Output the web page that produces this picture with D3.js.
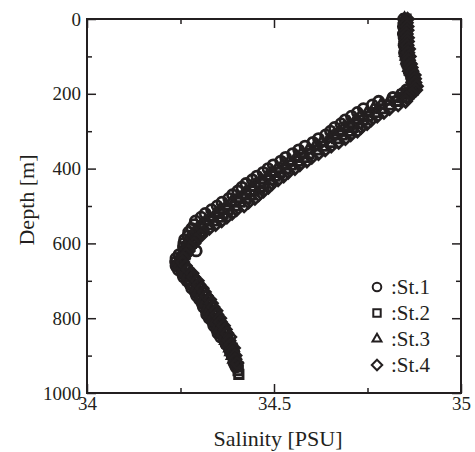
<!DOCTYPE html>
<html>
<head>
<meta charset="utf-8">
<script src="https://cdn.jsdelivr.net/npm/d3@7"></script>
<style>
  html, body { margin: 0; padding: 0; background: #fff; }
  svg { display: block; }
  text { font-family: "Times New Roman", "Liberation Serif", Tinos, Times, serif; fill: #231f20; }
</style>
</head>
<body>
<svg id="chart" width="475" height="452"></svg>
<script>
// depth levels [m]
const DEPTH = [0,10,20,30,40,50,60,70,80,90,100,110,120,130,140,150,160,170,180,190,
  200,210,220,230,240,250,260,270,280,290,300,310,320,330,340,350,360,370,380,390,
  400,410,420,430,440,450,460,470,480,490,500,510,520,530,540,550,560,570,580,590,
  600,610,620,630,640,650,660,670,680,690,700,710,720,730,740,750,760,770,780,790,
  800,810,820,830,840,850,860,870,880,890,900,910,920,930,940,950];

// salinity [PSU] per station, read from the profile
const SAL_ST1 = [34.847,34.849,34.846,34.849,34.846,34.848,34.850,34.848,34.852,34.849,
  34.852,34.855,34.855,34.860,34.861,34.866,34.869,34.869,34.873,34.854,
  34.843,34.818,34.780,34.763,34.739,34.723,34.707,34.690,34.679,34.662,
  34.651,34.638,34.619,34.604,34.583,34.566,34.550,34.531,34.518,34.498,
  34.484,34.471,34.454,34.442,34.425,34.414,34.403,34.389,34.379,34.361,
  34.348,34.333,34.316,34.305,34.290,34.287,34.280,34.272,34.270,34.261,
  34.259,34.258,34.292,34.246,34.238,34.237,34.238,34.244,34.255,34.258,
  34.267,34.276,34.280,34.289,34.293,34.301,34.308,34.311,34.319,34.320,
  34.327,34.336,34.339,34.347,34.350,34.357,34.369,34.372,34.380,34.383,
  34.388,34.393,34.393,34.398];

const SAL_ST2 = [34.853,34.851,34.852,34.855,34.852,34.854,34.852,34.854,34.856,34.855,
  34.858,34.857,34.861,34.866,34.867,34.872,34.871,34.875,34.877,34.872,
  34.861,34.843,34.828,34.811,34.787,34.771,34.751,34.738,34.725,34.710,
  34.699,34.682,34.667,34.652,34.631,34.614,34.594,34.579,34.564,34.546,
  34.532,34.515,34.502,34.490,34.473,34.462,34.447,34.437,34.425,34.409,
  34.396,34.377,34.364,34.353,34.338,34.326,34.310,34.301,34.293,34.283,
  34.279,34.270,34.265,34.262,34.254,34.251,34.254,34.264,34.273,34.278,
  34.287,34.292,34.300,34.309,34.313,34.321,34.324,34.331,34.337,34.340,
  34.347,34.350,34.357,34.365,34.368,34.375,34.375,34.382,34.388,34.389,
  34.394,34.395,34.399,34.404,34.404,34.406];

const SAL_ST3 = [34.849,34.850,34.852,34.850,34.851,34.852,34.851,34.854,34.853,34.852,
  34.854,34.856,34.861,34.861,34.866,34.870,34.870,34.875,34.874,34.862,
  34.850,34.830,34.808,34.786,34.766,34.749,34.730,34.718,34.702,34.687,
  34.675,34.661,34.647,34.627,34.610,34.592,34.573,34.559,34.541,34.523,
  34.508,34.494,34.482,34.465,34.452,34.440,34.426,34.417,34.402,34.386,
  34.372,34.356,34.344,34.328,34.317,34.308,34.295,34.289,34.280,34.271,
  34.267,34.263,34.259,34.251,34.247,34.243,34.245,34.256,34.262,34.267,
  34.275,34.283,34.292,34.296,34.304,34.311,34.315,34.323,34.326,34.329,
  34.335,34.343,34.351,34.354,34.361,34.367,34.371,34.379,34.382,34.385,
  34.389,34.393];

const SAL_ST4 = [34.857,34.854,34.856,34.856,34.854,34.857,34.857,34.856,34.860,34.858,
  34.862,34.860,34.865,34.867,34.869,34.875,34.876,34.877,34.881,34.879,
  34.869,34.855,34.852,34.832,34.809,34.794,34.776,34.760,34.749,34.733,
  34.723,34.705,34.691,34.673,34.653,34.637,34.619,34.601,34.588,34.569,
  34.556,34.538,34.526,34.511,34.495,34.485,34.472,34.459,34.449,34.432,
  34.420,34.400,34.388,34.374,34.360,34.344,34.327,34.312,34.304,34.291,
  34.286,34.275,34.271,34.265,34.258,34.256,34.263,34.270,34.281,34.285,
  34.295,34.299,34.308,34.314,34.319,34.328,34.333,34.337,34.345,34.347,
  34.355,34.357,34.365,34.370,34.374,34.382,34.380,34.384,34.392,34.390,
  34.396,34.396,34.401];

const STATIONS = [":St.1", ":St.2", ":St.3", ":St.4"];
const X_MAJOR = [34, 34.5, 35];
const X_MINOR = [34.25, 34.75];
const Y_MAJOR = [0, 200, 400, 600, 800, 1000];
const Y_MINOR = [100, 300, 500, 700, 900];

const ink = "#231f20";
const margin = { top: 19, left: 87 };
const W = 374, H = 374;

const svg = d3.select("#chart");
const g = svg.append("g").attr("transform", `translate(${margin.left},${margin.top})`);

const x = d3.scaleLinear().domain([34, 35]).range([0, W]);
const y = d3.scaleLinear().domain([0, 1000]).range([0, H]);

// open markers: one shape per station
const shapes = [
  { type: d3.symbolCircle, size: 80, legend: 58 },
  { type: d3.symbolSquare2 || d3.symbolSquare, size: 90, legend: 70 },
  { type: d3.symbolTriangle2 || d3.symbolTriangle, size: 78, legend: 58 },
  { type: d3.symbolDiamond2 || d3.symbolDiamond, size: 88, legend: 70 },
];
const series = [SAL_ST1, SAL_ST2, SAL_ST3, SAL_ST4];

// data points
series.forEach((sal, i) => {
  const sym = d3.symbol().type(shapes[i].type).size(shapes[i].size);
  g.append("g")
    .attr("class", "station")
    .selectAll("path")
    .data(sal.map((s, k) => ({ s, d: DEPTH[k] })))
    .enter()
    .append("path")
    .attr("transform", (d) => `translate(${x(d.s)},${y(d.d)})`)
    .attr("d", sym)
    .attr("fill", "none")
    .attr("stroke", ink)
    .attr("stroke-width", 2.8);
});

// axes, ticks pointing inward
const styleAxis = (sel) => {
  sel.select(".domain").remove();
  sel.attr("font-family", null);
  sel.selectAll("line").attr("stroke", ink).attr("stroke-width", 1.5);
  sel.selectAll("text").style("font-size", "19px").attr("fill", ink);
};

g.append("g").attr("transform", `translate(0,${H})`)
  .call(d3.axisBottom(x).tickValues(X_MAJOR).tickSize(-9).tickPadding(3).tickFormat(d3.format("")))
  .call(styleAxis);
g.append("g").attr("transform", `translate(0,${H})`)
  .call(d3.axisBottom(x).tickValues(X_MINOR).tickSize(-5).tickFormat(""))
  .call(styleAxis);
g.append("g")
  .call(d3.axisTop(x).tickValues(X_MAJOR).tickSize(-9).tickFormat(""))
  .call(styleAxis);
g.append("g")
  .call(d3.axisTop(x).tickValues(X_MINOR).tickSize(-5).tickFormat(""))
  .call(styleAxis);

g.append("g")
  .call(d3.axisLeft(y).tickValues(Y_MAJOR).tickSize(-9).tickPadding(6).tickFormat(d3.format("")))
  .call(styleAxis);
g.append("g")
  .call(d3.axisLeft(y).tickValues(Y_MINOR).tickSize(-5).tickFormat(""))
  .call(styleAxis);
g.append("g").attr("transform", `translate(${W},0)`)
  .call(d3.axisRight(y).tickValues(Y_MAJOR).tickSize(-9).tickFormat(""))
  .call(styleAxis);
g.append("g").attr("transform", `translate(${W},0)`)
  .call(d3.axisRight(y).tickValues(Y_MINOR).tickSize(-5).tickFormat(""))
  .call(styleAxis);

// frame
g.append("rect")
  .attr("width", W).attr("height", H)
  .attr("fill", "none").attr("stroke", ink).attr("stroke-width", 2);

// axis titles
svg.append("text")
  .attr("x", margin.left + W / 2 + 4).attr("y", 446)
  .attr("text-anchor", "middle")
  .style("font-size", "22px")
  .text("Salinity [PSU]");

svg.append("text")
  .attr("transform", `translate(34,${margin.top + 181}) rotate(-90)`)
  .attr("text-anchor", "middle")
  .style("font-size", "22px")
  .text("Depth [m]");

// legend
const legend = svg.append("g").attr("class", "legend")
  .attr("transform", "translate(377,287)");
const rows = legend.selectAll("g.legend-row")
  .data(STATIONS)
  .enter()
  .append("g")
  .attr("class", "legend-row")
  .attr("transform", (_, i) => `translate(0,${i * 26})`);

rows.append("path")
  .attr("d", (_, i) => d3.symbol().type(shapes[i].type).size(shapes[i].legend)())
  .attr("fill", "none")
  .attr("stroke", ink)
  .attr("stroke-width", 2);

rows.append("text")
  .attr("x", 14)
  .attr("y", 7)
  .style("font-size", "21px")
  .text((d) => d);
</script>
</body>
</html>
